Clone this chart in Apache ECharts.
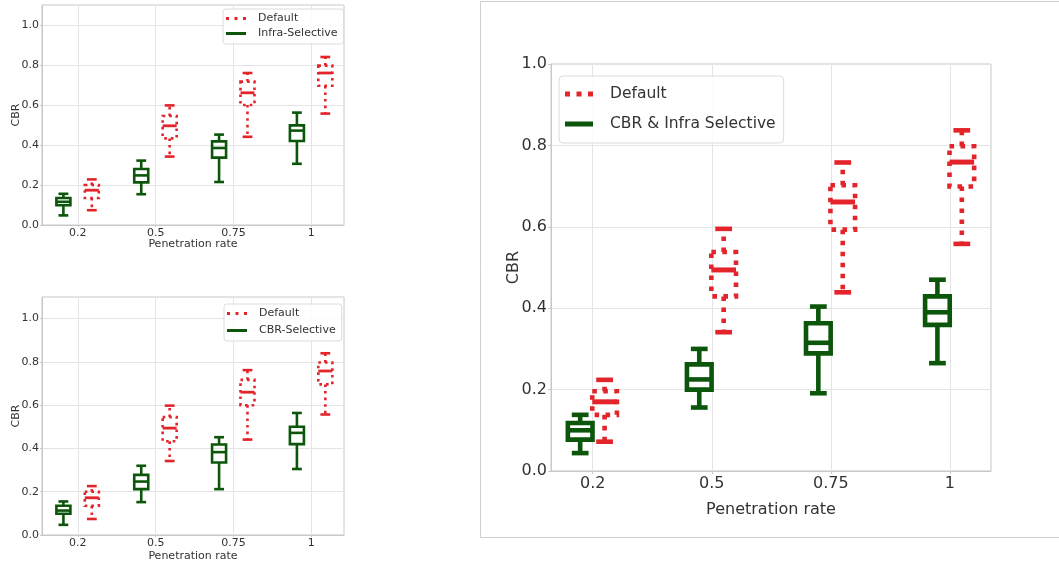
<!DOCTYPE html>
<html>
<head>
<meta charset="utf-8">
<script src="https://cdn.jsdelivr.net/npm/echarts@6/dist/echarts.min.js"></script>
<style>
html,body{margin:0;padding:0;background:#fff;}
#chart{width:1059px;height:568px;}
</style>
</head>
<body>
<div id="chart"></div>
<script>
// ---------- data ----------
const categories = ['0.2', '0.5', '0.75', '1'];
const seriesNames = ['Default', 'Infra-Selective', 'CBR-Selective', 'CBR & Infra Selective'];
const yTicks = [0, 0.2, 0.4, 0.6, 0.8, 1.0];
// each entry: [min, q1, median, q3, max]
const topDefault = [
  [0.074, 0.135, 0.174, 0.200, 0.228],
  [0.342, 0.433, 0.496, 0.545, 0.598],
  [0.441, 0.600, 0.661, 0.717, 0.760],
  [0.557, 0.696, 0.760, 0.797, 0.840]
];
const topInfraSelective = [
  [0.048, 0.099, 0.116, 0.135, 0.156],
  [0.154, 0.213, 0.248, 0.280, 0.322],
  [0.215, 0.337, 0.385, 0.418, 0.452],
  [0.306, 0.420, 0.472, 0.498, 0.562]
];
const bottomDefault = [
  [0.074, 0.135, 0.172, 0.200, 0.226],
  [0.342, 0.433, 0.494, 0.545, 0.598],
  [0.441, 0.600, 0.660, 0.717, 0.762],
  [0.557, 0.696, 0.758, 0.797, 0.840]
];
const bottomCbrSelective = [
  [0.047, 0.098, 0.113, 0.135, 0.155],
  [0.152, 0.212, 0.247, 0.278, 0.320],
  [0.212, 0.335, 0.383, 0.418, 0.452],
  [0.305, 0.420, 0.472, 0.500, 0.564]
];
const bigDefault = [
  [0.072, 0.138, 0.170, 0.196, 0.224],
  [0.341, 0.429, 0.494, 0.538, 0.595],
  [0.439, 0.593, 0.661, 0.702, 0.758],
  [0.558, 0.699, 0.759, 0.798, 0.837]
];
const bigCbrInfraSelective = [
  [0.044, 0.077, 0.100, 0.118, 0.138],
  [0.156, 0.200, 0.225, 0.262, 0.300],
  [0.191, 0.289, 0.315, 0.363, 0.404],
  [0.265, 0.359, 0.390, 0.429, 0.470]
];

// ---------- styles ----------
const GREEN = '#0b560b';
const RED = '#e3242b';
const FONT = 'DejaVu Sans';
const TXT = '#333';

function boxRender(cfg) {
  return function (params, api) {
    const x = api.value(0) + cfg.offset;
    const ys = [1, 2, 3, 4, 5].map(i => api.coord([x, api.value(i)])[1]);
    const cx = api.coord([x, 0])[0];
    const hw = api.size([cfg.width, 0])[0] / 2;
    const cw = hw * cfg.capFrac;
    const [yMin, yQ1, yMed, yQ3, yMax] = ys;
    const lineSt = { stroke: cfg.color, lineWidth: cfg.lw, fill: null, lineDash: cfg.dash || null };
    const solidSt = { stroke: cfg.color, lineWidth: cfg.lw, fill: null };
    const medSt = { stroke: cfg.color, lineWidth: cfg.medLw || cfg.lw, fill: null };
    return {
      type: 'group',
      children: [
        { type: 'rect', shape: { x: cx - hw, y: yQ3, width: 2 * hw, height: yQ1 - yQ3 }, style: lineSt },
        { type: 'line', shape: { x1: cx, y1: yQ3, x2: cx, y2: yMax }, style: lineSt },
        { type: 'line', shape: { x1: cx, y1: yQ1, x2: cx, y2: yMin }, style: lineSt },
        { type: 'line', shape: { x1: cx - cw, y1: yMax, x2: cx + cw, y2: yMax }, style: solidSt },
        { type: 'line', shape: { x1: cx - cw, y1: yMin, x2: cx + cw, y2: yMin }, style: solidSt },
        { type: 'line', shape: { x1: cx - hw, y1: yMed, x2: cx + hw, y2: yMed }, style: medSt }
      ]
    };
  };
}

function toData(stats) { return stats.map((s, i) => [i].concat(s)); }

function boxSeries(name, stats, gi, cfg) {
  return {
    type: 'custom', name: name, xAxisIndex: gi, yAxisIndex: gi,
    itemStyle: { color: cfg.color },
    renderItem: boxRender(cfg),
    data: toData(stats),
    encode: { x: 0, y: [1, 2, 3, 4, 5] },
    silent: true
  };
}

const redIconSmall = 'path://M0,0h3v3h-3z M8.5,0h3v3h-3z M17,0h3v3h-3z';
const greenIconSmall = 'path://M0,0h20v3h-20z';
const redIconBig = 'path://M0,0h5v5h-5z M11.5,0h5v5h-5z M23,0h5v5h-5z';
const greenIconBig = 'path://M0,0h28v5h-28z';

function xAxisCfg(gi, min, max, fs, margin, nameGap, tickLen) {
  return {
    type: 'value', gridIndex: gi, min: min, max: max,
    name: 'Penetration rate', nameLocation: 'middle', nameGap: nameGap, nameMoveOverlap: false,
    nameTextStyle: { fontFamily: FONT, fontSize: fs, color: TXT },
    axisLine: { show: true, onZero: false, lineStyle: { color: '#c8c8c8', width: 1 } },
    axisTick: { show: true, customValues: [0, 1, 2, 3], length: tickLen, lineStyle: { color: '#c8c8c8' } },
    axisLabel: { customValues: [0, 1, 2, 3], formatter: v => categories[Math.round(v)], fontFamily: FONT, fontSize: fs, color: TXT, margin: margin },
    splitLine: { show: true, lineStyle: { color: '#e4e4e4', width: 1 } }
  };
}
function yAxisCfg(gi, max, fs, margin, nameGap, tickLen) {
  return {
    type: 'value', gridIndex: gi, min: 0, max: max, interval: 0.2,
    name: 'CBR', nameLocation: 'middle', nameGap: nameGap, nameRotate: 90, nameMoveOverlap: false,
    nameTextStyle: { fontFamily: FONT, fontSize: fs, color: TXT },
    axisLine: { show: true, onZero: false, lineStyle: { color: '#c8c8c8', width: 1 } },
    axisTick: { show: true, length: tickLen, lineStyle: { color: '#c8c8c8' } },
    axisLabel: { showMaxLabel: max === 1, formatter: v => (yTicks.indexOf(Math.round(v * 10) / 10) >= 0 ? v.toFixed(1) : ''), fontFamily: FONT, fontSize: fs, color: TXT, margin: margin },
    splitLine: { show: true, lineStyle: { color: '#e4e4e4', width: 1 } }
  };
}

const smallGreen = { offset: -0.185, width: 0.18, capFrac: 0.7, color: GREEN, lw: 2.6 };
const smallRed = { offset: 0.18, width: 0.18, capFrac: 0.7, color: RED, lw: 2.6, dash: [2.6, 4], medLw: 2.8 };
const bigGreen = { offset: -0.105, width: 0.207, capFrac: 0.68, color: GREEN, lw: 4.6 };
const bigRed = { offset: 0.1, width: 0.207, capFrac: 0.68, color: RED, lw: 4.6, dash: [4.6, 6.4], medLw: 5 };

function smallLegend(left, top, secondName, gap) {
  return {
    orient: 'vertical', left: left, top: top, selectedMode: false,
    itemWidth: 20, itemHeight: 3, itemGap: gap,
    padding: [4, 6, 5, 3],
    backgroundColor: 'rgba(255,255,255,0.85)', borderColor: '#dcdcdc', borderWidth: 1, borderRadius: 3,
    textStyle: { fontFamily: FONT, fontSize: 11, color: TXT, padding: [0, 0, 0, 7] },
    data: [
      { name: 'Default', icon: redIconSmall },
      { name: secondName, icon: greenIconSmall }
    ]
  };
}

const option = {
  animation: false,
  backgroundColor: '#fff',
  graphic: [{
    type: 'rect', shape: { x: 480.5, y: 1.5, width: 620, height: 536 },
    style: { fill: null, stroke: '#cfcfcf', lineWidth: 1 }, silent: true, z: -10
  }],
  grid: [
    { left: 42, top: 5, width: 302, height: 220, show: true, borderColor: '#c8c8c8', borderWidth: 1 },
    { left: 42, top: 297, width: 302, height: 238, show: true, borderColor: '#c8c8c8', borderWidth: 1 },
    { left: 551, top: 64, width: 440, height: 407, show: true, borderColor: '#c8c8c8', borderWidth: 1 }
  ],
  xAxis: [
    xAxisCfg(0, -0.46, 3.42, 11, 3, 14, 2),
    xAxisCfg(1, -0.46, 3.42, 11, 3, 16, 2),
    xAxisCfg(2, -0.35, 3.345, 16, 5, 31, 3)
  ],
  yAxis: [
    yAxisCfg(0, 1.1, 11, 3, 20, 2),
    yAxisCfg(1, 1.1, 11, 3, 20, 2),
    yAxisCfg(2, 1.0, 16, 4, 29, 3)
  ],
  legend: [
    smallLegend(223, 9, 'Infra-Selective', 4),
    smallLegend(224, 304, 'CBR-Selective', 6),
    {
      orient: 'vertical', left: 559, top: 76, selectedMode: false,
      itemWidth: 28, itemHeight: 5, itemGap: 14,
      padding: [10, 8, 11, 6],
      backgroundColor: 'rgba(255,255,255,0.85)', borderColor: '#dcdcdc', borderWidth: 1, borderRadius: 4,
      textStyle: { fontFamily: FONT, fontSize: 15.5, color: TXT, padding: [0, 0, 0, 12] },
      data: [
        { name: 'Default', icon: redIconBig },
        { name: 'CBR & Infra Selective', icon: greenIconBig }
      ]
    }
  ],
  series: [
    boxSeries(seriesNames[1], topInfraSelective, 0, smallGreen),
    boxSeries(seriesNames[0], topDefault, 0, smallRed),
    boxSeries(seriesNames[2], bottomCbrSelective, 1, smallGreen),
    boxSeries(seriesNames[0], bottomDefault, 1, smallRed),
    boxSeries(seriesNames[3], bigCbrInfraSelective, 2, bigGreen),
    boxSeries(seriesNames[0], bigDefault, 2, bigRed)
  ]
};

const chart = echarts.init(document.getElementById('chart'), null, { renderer: 'canvas' });
chart.setOption(option);
</script>
</body>
</html>
